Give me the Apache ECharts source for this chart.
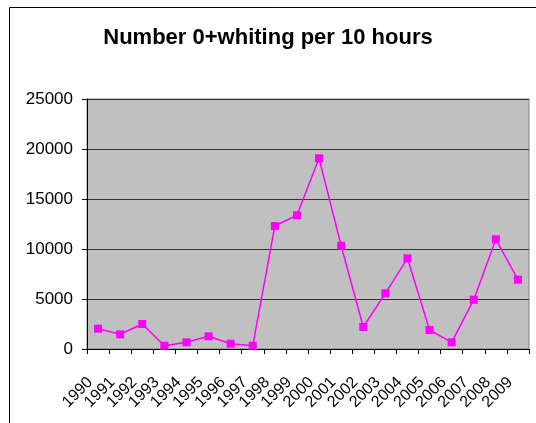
<!DOCTYPE html>
<html>
<head>
<meta charset="utf-8">
<script src="https://cdn.jsdelivr.net/npm/echarts@6/dist/echarts.min.js"></script>
<style>
  html, body { margin: 0; padding: 0; background: #fff; }
  #chart { width: 536px; height: 423px; }
</style>
</head>
<body>
<div id="chart"></div>
<script>
// years on the x axis
var years = ['1990', '1991', '1992', '1993', '1994', '1995', '1996', '1997', '1998', '1999',
  '2000', '2001', '2002', '2003', '2004', '2005', '2006', '2007', '2008', '2009'];
// number of 0+ whiting per 10 hours
var whiting = [2030, 1470, 2500, 330, 670, 1270, 530, 330, 12300, 13370,
  19070, 10330, 2200, 5570, 9070, 1900, 670, 4930, 10970, 6930];
var yTicks = [0, 5000, 10000, 15000, 20000, 25000];

var chart = echarts.init(document.getElementById('chart'));
var option = {
  animation: false,
  backgroundColor: '#fff',
  textStyle: { fontFamily: 'Liberation Sans, Arial, sans-serif' },
  title: {
    text: 'Number 0+whiting per 10 hours',
    left: 'center',
    top: 22,
    textStyle: { fontSize: 22, fontWeight: 'bold', color: '#000', fontFamily: 'Liberation Sans, Arial, sans-serif' }
  },
  graphic: [
    { type: 'rect', left: 7, top: 5, shape: { width: 600, height: 500 }, style: { fill: 'none', stroke: '#000', lineWidth: 1 }, z: -1 }
  ],
  grid: {
    left: 87, top: 99, width: 442, height: 250,
    show: true, backgroundColor: '#c0c0c0', borderColor: '#808080', borderWidth: 1
  },
  xAxis: {
    type: 'category',
    data: years,
    boundaryGap: true,
    axisLine: { lineStyle: { color: '#000', width: 1 } },
    axisTick: { show: true, length: 5, lineStyle: { color: '#000' } },
    axisLabel: { rotate: 45, margin: 23, padding: [0, 11, 0, 0], fontSize: 16, color: '#000', interval: 0 }
  },
  yAxis: {
    type: 'value',
    min: yTicks[0],
    max: yTicks[yTicks.length - 1],
    interval: 5000,
    axisLine: { show: true, lineStyle: { color: '#000', width: 1 } },
    axisTick: { show: true, length: 5, lineStyle: { color: '#000' } },
    axisLabel: { margin: 14, fontSize: 17, color: '#000', formatter: function (v) { return String(v); } },
    splitLine: { lineStyle: { color: '#333', width: 1 } }
  },
  series: [{
    type: 'line',
    data: whiting,
    symbol: 'rect',
    symbolSize: 8,
    lineStyle: { color: '#ff00ff', width: 1.5 },
    itemStyle: { color: '#ff00ff' }
  }]
};
chart.setOption(option);
</script>
</body>
</html>
